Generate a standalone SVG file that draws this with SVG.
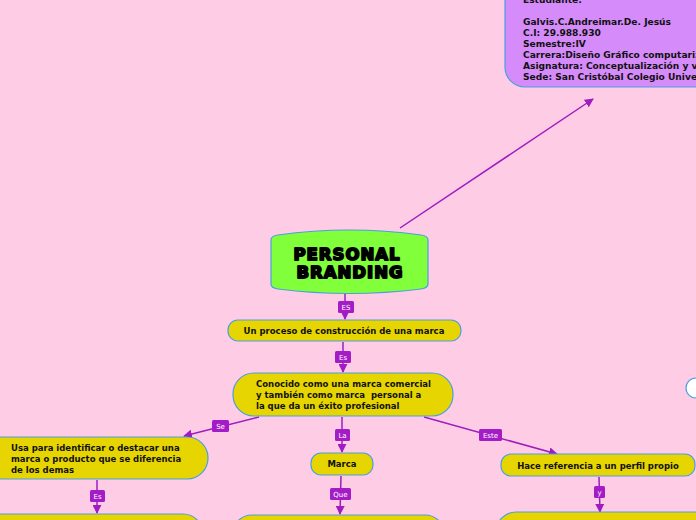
<svg xmlns="http://www.w3.org/2000/svg" width="696" height="520" viewBox="0 0 696 520">
<defs>
<marker id="ah2" viewBox="0 0 10 10" refX="9" refY="5" markerWidth="9" markerHeight="9" orient="auto" markerUnits="userSpaceOnUse">
<path d="M0,0 L10,5 L0,10 z" fill="#9E1CC2"/>
</marker>
<style>
.n{fill:#E6D500;stroke:#4A9FE0;stroke-width:1.2}
.t{font-family:"DejaVu Sans",Verdana,sans-serif;font-weight:bold;font-size:8.5px;fill:#111}
.c{stroke:#9E1CC2;stroke-width:1.5;fill:none}
.lb{fill:#A31CC6}
.lt{font-family:"DejaVu Sans",Verdana,sans-serif;font-size:7px;fill:#fff;text-anchor:middle}
.p{font-family:"DejaVu Sans",Verdana,sans-serif;font-weight:bold;font-size:9.1px;fill:#111}
.big{font-family:"DejaVu Sans",sans-serif;font-weight:900;font-size:16.5px;letter-spacing:1px;fill:#000;stroke:#000;stroke-width:1.8;stroke-linejoin:round;text-anchor:middle}
</style>
</defs>
<rect width="696" height="520" fill="#FECCE5"/>

<g id="connectors">
<line class="c" x1="400" y1="228" x2="593" y2="99" marker-end="url(#ah2)"/>
<line class="c" x1="345" y1="294" x2="345" y2="319" marker-end="url(#ah2)"/>
<rect class="lb" x="338" y="301" width="16" height="12" rx="1.5"/><text class="lt" x="346" y="310">ES</text>
<line class="c" x1="343" y1="342" x2="343" y2="372" marker-end="url(#ah2)"/>
<rect class="lb" x="335" y="351" width="16" height="12" rx="1.5"/><text class="lt" x="343" y="360">Es</text>
<line class="c" x1="259" y1="417" x2="184" y2="436" marker-end="url(#ah2)"/>
<rect class="lb" x="212" y="420" width="17" height="12" rx="1.5"/><text class="lt" x="220.5" y="429">Se</text>
<line class="c" x1="342" y1="417" x2="342" y2="452" marker-end="url(#ah2)"/>
<rect class="lb" x="335" y="429" width="15" height="12" rx="1.5"/><text class="lt" x="342.5" y="438">La</text>
<line class="c" x1="424" y1="417" x2="557" y2="454" marker-end="url(#ah2)"/>
<rect class="lb" x="479" y="429" width="23" height="12" rx="1.5"/><text class="lt" x="490.5" y="438">Este</text>
<line class="c" x1="97" y1="480" x2="97" y2="513" marker-end="url(#ah2)"/>
<rect class="lb" x="90" y="490" width="15" height="12" rx="1.5"/><text class="lt" x="97.5" y="499">Es</text>
<line class="c" x1="341" y1="476" x2="340" y2="514" marker-end="url(#ah2)"/>
<rect class="lb" x="330" y="488" width="21" height="12" rx="1.5"/><text class="lt" x="340.5" y="497">Que</text>
<line class="c" x1="599" y1="477" x2="600" y2="512" marker-end="url(#ah2)"/>
<rect class="lb" x="594" y="486" width="11" height="12" rx="1.5"/><text class="lt" x="599.5" y="495">y</text>
</g>

<g id="student">
<rect x="505" y="-30" width="220" height="117" rx="20" fill="#D58BFA" stroke="#4A9FE0" stroke-width="1.2"/>
<text class="p" x="523" y="3">Estudiante:</text>
<text class="p" x="523" y="25">Galvis.C.Andreimar.De. Jesús</text>
<text class="p" x="523" y="36">C.I: 29.988.930</text>
<text class="p" x="523" y="47">Semestre:IV</text>
<text class="p" x="523" y="58">Carrera:Diseño Gráfico computarizado</text>
<text class="p" x="523" y="69">Asignatura: Conceptualización y visualización</text>
<text class="p" x="523" y="80">Sede: San Cristóbal Colegio Universitario</text>
</g>

<g id="personal-branding">
<path d="M271,240 Q271,236 278,235 Q349,225 421,235 Q428,236 428,240 L428,284 Q428,288 421,289 Q349,298 278,289 Q271,288 271,284 Z" fill="#80FF3A" stroke="#4A9FE0" stroke-width="1.2"/>
<text class="big" x="347" y="260">PERSONAL</text>
<text class="big" x="350" y="278">BRANDING</text>
</g>

<g id="proceso">
<rect class="n" x="228" y="320" width="233" height="21" rx="10"/>
<text class="t" x="344" y="334" text-anchor="middle">Un proceso de construcción de una marca</text>
</g>

<g id="conocido">
<rect class="n" x="233" y="373" width="220" height="43" rx="21"/>
<text class="t" x="256" y="387">Conocido como una marca comercial</text>
<text class="t" x="256" y="398" xml:space="preserve">y también como marca  personal a</text>
<text class="t" x="256" y="409">la que da un éxito profesional</text>
</g>

<g id="usa">
<rect class="n" x="-20" y="437" width="228" height="42" rx="21"/>
<text class="t" x="11" y="451">Usa para identificar o destacar una</text>
<text class="t" x="11" y="462">marca o producto que se diferencia</text>
<text class="t" x="11" y="473">de los demas</text>
</g>

<g id="marca">
<rect class="n" x="311" y="453" width="62" height="22" rx="10"/>
<text class="t" x="342" y="467" text-anchor="middle">Marca</text>
</g>

<g id="hace">
<rect class="n" x="501" y="454" width="194" height="22" rx="10"/>
<text class="t" x="598" y="469" text-anchor="middle">Hace referencia a un perfil propio</text>
</g>

<g id="bottom-left">
<rect class="n" x="-20" y="514" width="223" height="40" rx="20"/>
</g>
<g id="bottom-middle">
<rect class="n" x="232" y="515" width="213" height="40" rx="20"/>
</g>
<g id="bottom-right">
<rect class="n" x="496" y="512" width="230" height="40" rx="20"/>
</g>

<g id="right-node">
<rect x="686" y="378" width="30" height="20" rx="10" fill="#fff" stroke="#4A9FE0" stroke-width="1.2"/>
</g>
</svg>
